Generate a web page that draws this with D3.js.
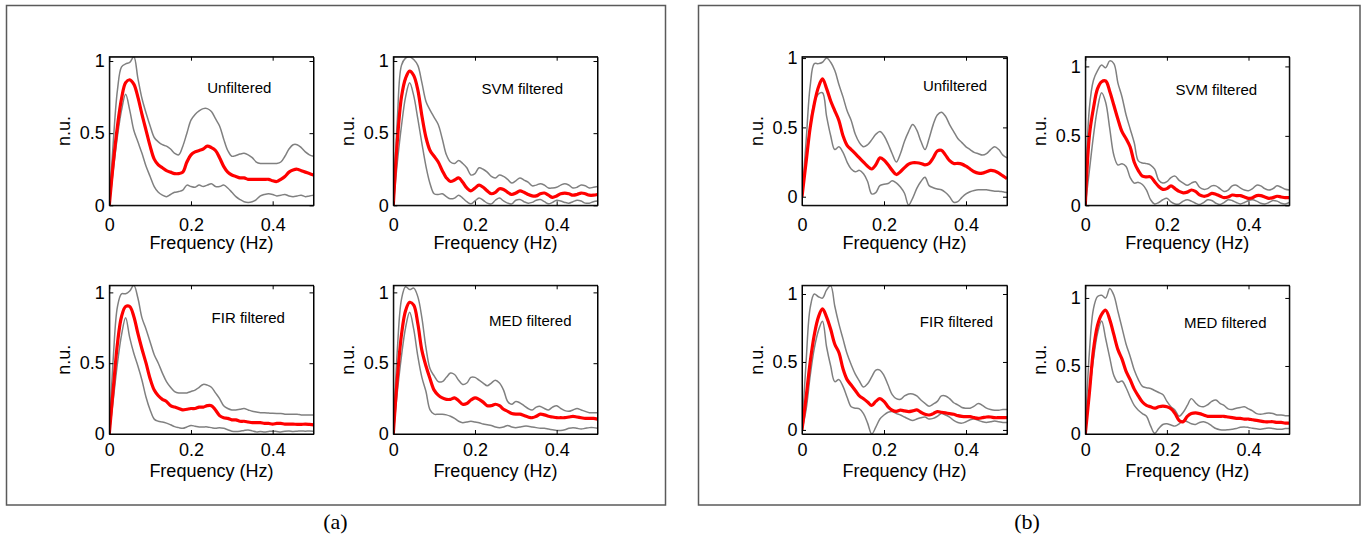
<!DOCTYPE html>
<html>
<head>
<meta charset="utf-8">
<script src="https://cdn.jsdelivr.net/npm/d3@7"></script>
<style>
body { margin: 0; background: #fff; }
</style>
</head>
<body>
<svg id="chart" width="1367" height="535"></svg>
<script>
// frequency grid, Hz
let freq = [0,0.01,0.02,0.03,0.04,0.05,0.06,0.07,0.08,0.09,
	0.1,0.11,0.12,0.13,0.14,0.15,0.16,0.17,0.18,0.19,
	0.2,0.21,0.22,0.23,0.24,0.25,0.26,0.27,0.28,0.29,
	0.3,0.31,0.32,0.33,0.34,0.35,0.36,0.37,0.38,0.39,
	0.4,0.41,0.42,0.43,0.44,0.45,0.46,0.47,0.48,0.49,0.5];
let xTicks = [0, 0.2, 0.4];
let yTicks = [0, 0.5, 1];
let titles = ["Unfiltered", "SVM filtered", "FIR filtered", "MED filtered"];
let panelLabels = ["(a)", "(b)"];
let xLabel = "Frequency (Hz)";
let yLabel = "n.u.";

// (a) unfiltered
let aUnfUp = [0,0.45,0.80,0.96,0.98,0.99,1.03,0.88,0.74,0.64,
	0.55,0.47,0.44,0.42,0.41,0.39,0.36,0.35,0.41,0.50,
	0.59,0.63,0.655,0.67,0.67,0.65,0.60,0.55,0.46,0.38,
	0.34,0.345,0.355,0.36,0.35,0.33,0.30,0.29,0.29,0.29,
	0.29,0.29,0.30,0.34,0.39,0.42,0.42,0.40,0.37,0.35,0.34];
let aUnfMean = [0,0.30,0.55,0.74,0.85,0.87,0.84,0.75,0.63,0.52,
	0.41,0.32,0.28,0.26,0.24,0.23,0.22,0.22,0.23,0.30,
	0.35,0.37,0.38,0.39,0.41,0.40,0.38,0.33,0.27,0.23,
	0.21,0.20,0.19,0.19,0.18,0.18,0.18,0.18,0.18,0.18,
	0.17,0.165,0.18,0.20,0.23,0.245,0.25,0.24,0.23,0.22,0.21];
let aUnfLow = [0,0.25,0.48,0.66,0.77,0.66,0.52,0.44,0.36,0.27,
	0.20,0.13,0.09,0.07,0.06,0.075,0.09,0.095,0.105,0.14,
	0.13,0.125,0.14,0.13,0.14,0.15,0.13,0.13,0.14,0.12,
	0.09,0.06,0.04,0.025,0.02,0.025,0.04,0.065,0.075,0.08,
	0.075,0.065,0.07,0.075,0.065,0.06,0.065,0.07,0.06,0.065,0.07];

// (a) SVM
let aSvmUp = [0,0.60,0.97,1.02,1.03,1.01,0.97,0.85,0.72,0.66,
	0.61,0.56,0.46,0.35,0.30,0.29,0.31,0.29,0.26,0.21,
	0.22,0.26,0.25,0.23,0.20,0.19,0.21,0.20,0.18,0.155,
	0.17,0.19,0.175,0.16,0.135,0.14,0.15,0.14,0.12,0.12,
	0.125,0.14,0.15,0.14,0.12,0.125,0.14,0.135,0.12,0.125,0.13];
let aSvmMean = [0,0.45,0.75,0.88,0.93,0.90,0.80,0.62,0.47,0.38,
	0.34,0.30,0.24,0.19,0.165,0.175,0.19,0.16,0.12,0.10,
	0.12,0.14,0.125,0.10,0.08,0.09,0.115,0.11,0.09,0.075,
	0.085,0.10,0.09,0.075,0.065,0.065,0.08,0.085,0.07,0.055,
	0.065,0.08,0.085,0.08,0.07,0.075,0.085,0.08,0.07,0.07,0.075];
let aSvmLow = [0,0.30,0.55,0.75,0.85,0.76,0.60,0.43,0.27,0.15,
	0.08,0.075,0.08,0.06,0.045,0.05,0.07,0.05,0.025,0.01,
	0.03,0.05,0.035,0.015,0.01,0.035,0.05,0.03,0.015,0.01,
	0.035,0.04,0.025,0.015,0.02,0.035,0.04,0.025,0.01,0.02,
	0.035,0.03,0.02,0.015,0.025,0.035,0.03,0.015,0.015,0.025,0.03];

// (a) FIR
let aFirUp = [0,0.55,0.90,0.99,0.99,1.01,1.05,0.96,0.82,0.74,
	0.65,0.56,0.50,0.43,0.37,0.33,0.30,0.29,0.29,0.29,
	0.30,0.31,0.33,0.35,0.345,0.33,0.29,0.25,0.20,0.18,
	0.17,0.17,0.175,0.18,0.17,0.16,0.155,0.15,0.15,0.148,
	0.146,0.145,0.145,0.14,0.14,0.14,0.14,0.135,0.135,0.135,0.135];
let aFirMean = [0,0.33,0.64,0.83,0.90,0.90,0.83,0.71,0.60,0.50,
	0.39,0.31,0.27,0.245,0.23,0.20,0.19,0.18,0.17,0.175,
	0.18,0.18,0.19,0.19,0.20,0.20,0.17,0.13,0.115,0.11,
	0.10,0.10,0.09,0.09,0.085,0.08,0.08,0.08,0.075,0.075,
	0.07,0.075,0.075,0.07,0.07,0.07,0.068,0.068,0.07,0.068,0.065];
let aFirLow = [0,0.25,0.50,0.70,0.82,0.68,0.57,0.48,0.38,0.26,
	0.17,0.105,0.09,0.085,0.077,0.065,0.052,0.045,0.04,0.05,
	0.06,0.055,0.05,0.05,0.05,0.045,0.04,0.045,0.04,0.03,
	0.02,0.018,0.02,0.025,0.028,0.022,0.015,0.018,0.015,0.018,
	0.02,0.018,0.015,0.02,0.022,0.018,0.02,0.022,0.02,0.022,0.02];

// (a) MED
let aMedUp = [0,0.60,0.95,1.04,1.02,1.03,0.97,0.82,0.61,0.46,
	0.41,0.37,0.37,0.40,0.43,0.42,0.38,0.35,0.36,0.40,
	0.40,0.38,0.36,0.34,0.36,0.38,0.36,0.31,0.23,0.21,
	0.23,0.22,0.20,0.18,0.17,0.19,0.195,0.18,0.17,0.19,
	0.20,0.18,0.165,0.16,0.17,0.18,0.17,0.16,0.15,0.15,0.15];
let aMedMean = [0,0.40,0.70,0.87,0.93,0.91,0.78,0.59,0.48,0.39,
	0.31,0.275,0.255,0.245,0.245,0.255,0.235,0.21,0.215,0.24,
	0.255,0.245,0.225,0.20,0.20,0.21,0.20,0.175,0.16,0.145,
	0.14,0.14,0.13,0.12,0.115,0.125,0.14,0.135,0.125,0.12,
	0.115,0.115,0.115,0.12,0.125,0.12,0.115,0.11,0.11,0.11,0.105];
let aMedLow = [0,0.30,0.55,0.75,0.86,0.74,0.55,0.40,0.30,0.17,
	0.14,0.14,0.14,0.135,0.125,0.11,0.09,0.08,0.085,0.09,
	0.085,0.08,0.07,0.065,0.06,0.05,0.045,0.05,0.06,0.05,
	0.045,0.05,0.055,0.055,0.05,0.045,0.04,0.04,0.035,0.03,
	0.025,0.025,0.03,0.04,0.045,0.04,0.035,0.04,0.045,0.045,0.04];

// (b) unfiltered
let bUnfUp = [0,0.40,0.80,0.96,0.96,0.97,1.00,0.97,0.91,0.81,
	0.72,0.62,0.55,0.45,0.39,0.36,0.375,0.41,0.45,0.47,
	0.44,0.38,0.31,0.25,0.31,0.40,0.47,0.52,0.48,0.40,
	0.34,0.42,0.52,0.59,0.61,0.58,0.52,0.47,0.42,0.39,
	0.36,0.34,0.32,0.31,0.30,0.31,0.34,0.36,0.34,0.30,0.28];
let bUnfMean = [0,0.25,0.50,0.67,0.79,0.85,0.78,0.69,0.62,0.55,
	0.44,0.37,0.34,0.31,0.28,0.25,0.22,0.20,0.23,0.28,
	0.265,0.23,0.19,0.16,0.18,0.21,0.235,0.245,0.245,0.24,
	0.23,0.24,0.28,0.33,0.335,0.30,0.26,0.24,0.24,0.235,
	0.22,0.20,0.18,0.17,0.17,0.18,0.19,0.185,0.17,0.15,0.13];
let bUnfLow = [0,0.25,0.52,0.68,0.74,0.75,0.58,0.44,0.34,0.36,
	0.32,0.25,0.20,0.18,0.19,0.165,0.11,0.02,0.03,0.08,
	0.09,0.095,0.115,0.10,0.07,0.025,-0.06,-0.01,0.06,0.11,
	0.14,0.08,0.065,0.055,0.05,0.03,0.0,-0.04,-0.035,-0.005,
	0.02,0.036,0.045,0.05,0.05,0.05,0.045,0.04,0.04,0.035,0.03];

// (b) SVM
let bSvmUp = [0,0.70,0.90,0.97,1.01,0.99,1.04,1.02,0.88,0.78,
	0.65,0.55,0.45,0.32,0.305,0.30,0.29,0.26,0.18,0.16,
	0.17,0.20,0.21,0.18,0.16,0.145,0.16,0.17,0.13,0.115,
	0.12,0.14,0.14,0.12,0.10,0.11,0.14,0.145,0.125,0.11,
	0.105,0.12,0.145,0.14,0.12,0.11,0.12,0.14,0.13,0.115,0.11];
let bSvmMean = [0,0.50,0.70,0.84,0.89,0.895,0.82,0.72,0.62,0.53,
	0.48,0.42,0.31,0.25,0.21,0.205,0.205,0.17,0.135,0.115,
	0.12,0.14,0.12,0.10,0.09,0.095,0.11,0.10,0.075,0.065,
	0.07,0.086,0.08,0.067,0.055,0.06,0.074,0.07,0.07,0.06,
	0.05,0.055,0.07,0.07,0.06,0.05,0.055,0.065,0.06,0.055,0.055];
let bSvmLow = [0,0.25,0.50,0.70,0.81,0.74,0.55,0.36,0.29,0.30,
	0.28,0.20,0.16,0.165,0.15,0.11,0.04,0.01,0.02,0.04,
	0.05,0.025,0.01,0.01,0.03,0.04,0.03,0.015,0.005,0.02,
	0.04,0.035,0.015,0.005,0.02,0.04,0.035,0.02,0.01,0.02,
	0.035,0.04,0.03,0.015,0.01,0.02,0.035,0.03,0.015,0.01,0.02];

// (b) FIR
let bFirUp = [0,0.50,0.90,1.0,0.98,0.97,1.03,1.06,0.91,0.78,
	0.67,0.56,0.48,0.41,0.36,0.315,0.34,0.39,0.44,0.44,
	0.40,0.33,0.26,0.23,0.225,0.25,0.265,0.265,0.25,0.22,
	0.195,0.175,0.19,0.21,0.25,0.25,0.23,0.20,0.185,0.165,
	0.16,0.16,0.175,0.195,0.18,0.16,0.15,0.145,0.145,0.15,0.15];
let bFirMean = [0,0.24,0.50,0.70,0.83,0.89,0.83,0.74,0.63,0.57,
	0.45,0.37,0.33,0.29,0.25,0.23,0.205,0.18,0.21,0.23,
	0.21,0.17,0.145,0.137,0.145,0.14,0.135,0.14,0.147,0.13,
	0.115,0.11,0.12,0.135,0.13,0.125,0.12,0.115,0.105,0.10,
	0.098,0.098,0.09,0.085,0.09,0.095,0.095,0.09,0.09,0.09,0.09];
let bFirLow = [0,0.15,0.40,0.60,0.73,0.80,0.61,0.47,0.355,0.37,
	0.32,0.24,0.17,0.16,0.155,0.12,0.05,-0.03,0.02,0.08,
	0.11,0.13,0.135,0.12,0.11,0.095,0.08,0.07,0.08,0.09,
	0.095,0.08,0.085,0.10,0.12,0.11,0.095,0.07,0.055,0.05,
	0.06,0.075,0.08,0.07,0.06,0.055,0.06,0.065,0.06,0.055,0.055];

// (b) MED
let bMedUp = [0,0.60,0.92,1.01,1.02,1.0,1.07,1.02,0.90,0.78,
	0.66,0.57,0.47,0.40,0.35,0.34,0.335,0.32,0.305,0.29,
	0.24,0.20,0.175,0.13,0.16,0.21,0.26,0.23,0.205,0.20,
	0.215,0.24,0.25,0.225,0.21,0.185,0.18,0.19,0.195,0.20,
	0.185,0.17,0.15,0.145,0.15,0.155,0.15,0.14,0.14,0.135,0.135];
let bMedMean = [0,0.30,0.62,0.80,0.88,0.91,0.84,0.73,0.62,0.55,
	0.46,0.40,0.33,0.28,0.235,0.21,0.20,0.19,0.20,0.205,
	0.20,0.185,0.15,0.10,0.09,0.13,0.15,0.155,0.15,0.14,
	0.13,0.13,0.13,0.13,0.13,0.125,0.12,0.115,0.115,0.11,
	0.11,0.105,0.10,0.095,0.09,0.09,0.09,0.085,0.085,0.08,0.08];
let bMedLow = [0,0.30,0.55,0.74,0.83,0.70,0.56,0.43,0.38,0.39,
	0.34,0.27,0.21,0.175,0.15,0.13,0.06,0.005,0.04,0.07,
	0.075,0.066,0.058,0.075,0.10,0.09,0.075,0.07,0.085,0.09,
	0.08,0.06,0.04,0.032,0.03,0.032,0.035,0.04,0.05,0.052,
	0.048,0.042,0.038,0.035,0.04,0.045,0.04,0.035,0.035,0.04,0.04];

// which series goes into which subplot
let series = [
	[aUnfUp, aUnfMean, aUnfLow], [aSvmUp, aSvmMean, aSvmLow],
	[aFirUp, aFirMean, aFirLow], [aMedUp, aMedMean, aMedLow],
	[bUnfUp, bUnfMean, bUnfLow], [bSvmUp, bSvmMean, bSvmLow],
	[bFirUp, bFirMean, bFirLow], [bMedUp, bMedMean, bMedLow]
];

// layout of subplots: box, y limits, title offset, label padding
let layout = [
	{left: 109.3, top: 56.7, w: 204.2, h: 148.6, yDom: [0, 1.03], tx: 130, ty: 36, pad: 12.5},
	{left: 393.3, top: 56.7, w: 204.2, h: 148.6, yDom: [0, 1.03], tx: 129, ty: 37, pad: 12.5},
	{left: 109.3, top: 285.3, w: 204.2, h: 148.7, yDom: [0, 1.05], tx: 139, ty: 38, pad: 9.5},
	{left: 393.3, top: 285.3, w: 204.2, h: 148.7, yDom: [0, 1.05], tx: 137, ty: 41, pad: 9.5},
	{left: 802, top: 56.7, w: 205, h: 148.6, yDom: [-0.062, 1.01], tx: 153, ty: 34, pad: 12.5},
	{left: 1085.3, top: 56.7, w: 204, h: 148.6, yDom: [0, 1.07], tx: 131, ty: 38, pad: 12.5},
	{left: 802, top: 285.3, w: 205, h: 148.7, yDom: [-0.03, 1.064], tx: 154.5, ty: 42, pad: 9.5},
	{left: 1085.3, top: 285.3, w: 204, h: 148.7, yDom: [0, 1.093], tx: 140, ty: 43, pad: 9.5}
];
let outer = [
	{x: 6.5, y: 5.5, w: 659, h: 499.5, cx: 335.5},
	{x: 698.5, y: 5.5, w: 661.5, h: 499.5, cx: 1027}
];

let svg = d3.select("#chart");
let sans = "'Liberation Sans', Arial, Helvetica, sans-serif";

// outer boxes and (a)/(b)
svg.selectAll(".outer")
	.data(outer)
	.enter()
	.append("rect")
	.attr("class", "outer")
	.attr("x", d => d.x)
	.attr("y", d => d.y)
	.attr("width", d => d.w)
	.attr("height", d => d.h)
	.attr("fill", "none")
	.attr("stroke", "#5a5a5a")
	.attr("stroke-width", 1.5);

svg.selectAll(".plabel")
	.data(outer)
	.enter()
	.append("text")
	.attr("class", "plabel")
	.attr("x", d => d.cx)
	.attr("y", 529)
	.attr("text-anchor", "middle")
	.attr("font-family", "'Liberation Serif', 'Times New Roman', serif")
	.attr("font-size", "22px")
	.text((d, i) => panelLabels[i]);

function drawPlot(p, i) {
	let data = series[i];
	let x = d3.scaleLinear().domain([0, 0.5]).range([p.left, p.left + p.w]);
	let y = d3.scaleLinear().domain(p.yDom).range([p.top + p.h, p.top]);
	let g = svg.append("g");

	g.append("clipPath")
		.attr("id", "clip" + i)
		.append("rect")
		.attr("x", p.left)
		.attr("y", p.top)
		.attr("width", p.w)
		.attr("height", p.h);

	let line = d3.line()
		.x((d, j) => x(freq[j]))
		.y(d => y(d))
		.curve(d3.curveCatmullRom.alpha(0.5));

	let lines = g.append("g").attr("clip-path", `url(#clip${i})`);
	lines.append("path").datum(data[0])
		.attr("d", line).attr("fill", "none")
		.attr("stroke", "#808080").attr("stroke-width", 1.5);
	lines.append("path").datum(data[2])
		.attr("d", line).attr("fill", "none")
		.attr("stroke", "#808080").attr("stroke-width", 1.5);
	lines.append("path").datum(data[1])
		.attr("d", line).attr("fill", "none")
		.attr("stroke", "#ff0000").attr("stroke-width", 3.2)
		.attr("stroke-linejoin", "round");

	// axes, ticks inside like matlab
	let fmt = d => d;
	g.append("g")
		.attr("transform", `translate(0, ${p.top + p.h})`)
		.call(d3.axisBottom(x).tickValues(xTicks).tickSize(-4).tickSizeOuter(0).tickPadding(p.pad).tickFormat(fmt));
	g.append("g")
		.attr("transform", `translate(${p.left}, 0)`)
		.call(d3.axisLeft(y).tickValues(yTicks).tickSize(-4).tickSizeOuter(0).tickPadding(4.5).tickFormat(fmt));
	g.append("g")
		.attr("transform", `translate(0, ${p.top})`)
		.call(d3.axisTop(x).tickValues(xTicks).tickSize(-4).tickSizeOuter(0).tickFormat(""));
	g.append("g")
		.attr("transform", `translate(${p.left + p.w}, 0)`)
		.call(d3.axisRight(y).tickValues(yTicks).tickSize(-4).tickSizeOuter(0).tickFormat(""));

	g.selectAll(".tick text")
		.attr("font-family", sans)
		.attr("font-size", "18px")
		.attr("fill", "#000");
	g.selectAll(".domain").attr("stroke", "#000");
	g.selectAll(".tick line").attr("stroke", "#000");

	g.append("rect")
		.attr("x", p.left)
		.attr("y", p.top)
		.attr("width", p.w)
		.attr("height", p.h)
		.attr("fill", "none")
		.attr("stroke", "#000")
		.attr("stroke-width", 1);

	g.append("text")
		.attr("x", p.left + p.w / 2)
		.attr("y", p.top + p.h + (p.pad > 10 ? 44 : 43))
		.attr("text-anchor", "middle")
		.attr("font-family", sans)
		.attr("font-size", "18px")
		.text(xLabel);

	g.append("text")
		.attr("transform", `translate(${p.left - 39.5}, ${p.top + p.h / 2}) rotate(-90)`)
		.attr("text-anchor", "middle")
		.attr("font-family", sans)
		.attr("font-size", "18px")
		.text(yLabel);

	g.append("text")
		.attr("x", p.left + p.tx)
		.attr("y", p.top + p.ty)
		.attr("text-anchor", "middle")
		.attr("font-family", sans)
		.attr("font-size", "15px")
		.text(titles[i % 4]);
}

layout.forEach(drawPlot);
</script>
</body>
</html>
